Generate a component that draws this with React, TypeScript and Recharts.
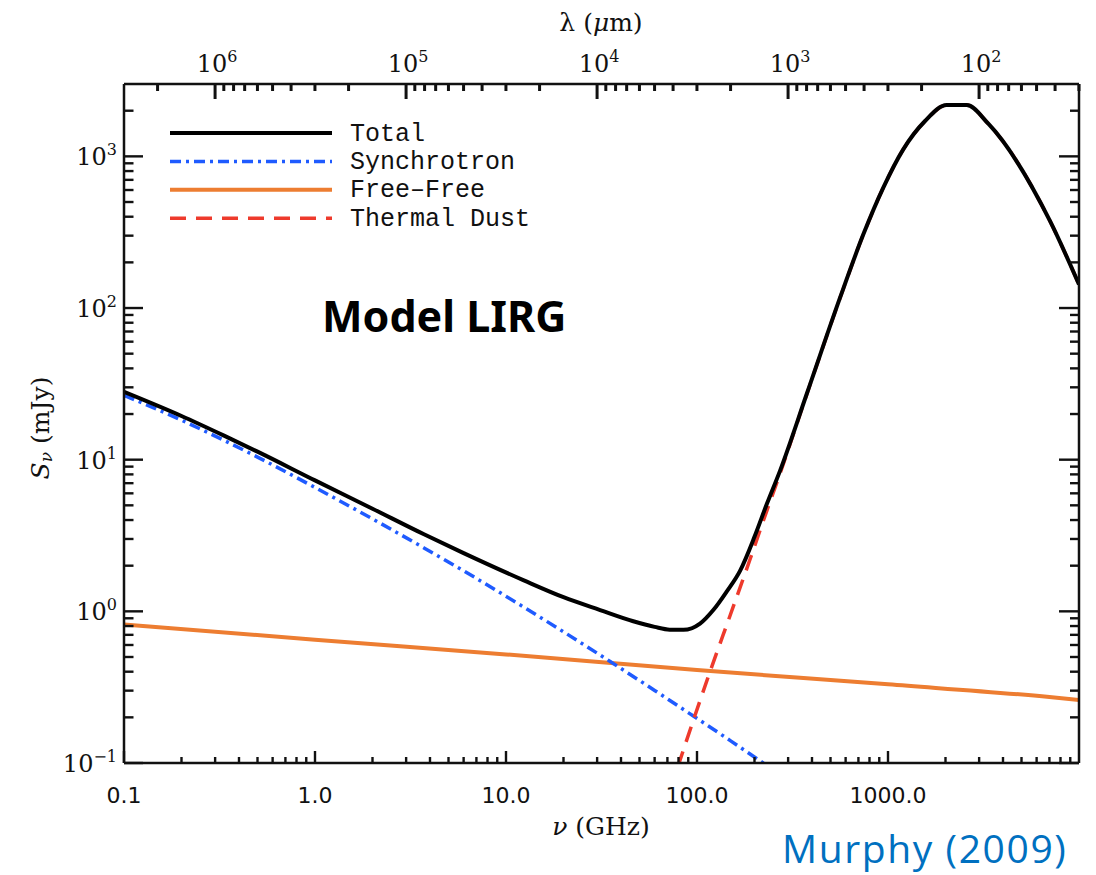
import React from "react";
import { LineChart, Line, XAxis, YAxis } from "recharts";

// lambda (um) = C / nu (GHz)
const C_UM_GHZ = 299792.458;

// ---- data: nu in GHz, S in mJy ----
const totalNu = [0.1, 0.2, 0.334, 0.5, 1.0, 2.0, 3.72, 6.0, 12.4, 20, 31.1, 46.4, 60, 72, 85, 103.7, 121.7, 143, 168, 200, 232, 272, 375, 561, 743, 945, 1202, 1563, 2028, 2583, 3351, 7047, 10000];
const totalS = [28.0, 19.4, 14.4, 11.3, 7.3, 4.75, 3.22, 2.42, 1.6, 1.24, 1.02, 0.86, 0.79, 0.757, 0.755, 0.83, 1.02, 1.35, 1.85, 3.1, 5.1, 8.44, 27.0, 117, 306, 622, 1112, 1710, 2178, 2178, 1641, 375, 143];

const synchNu = [0.1, 0.2, 0.334, 0.5, 1.0, 2.0, 3.72, 6.0, 12.4, 20, 35.1, 60, 95.7, 150, 222, 300];
const synchS = [26.6, 18.2, 13.4, 10.4, 6.56, 4.07, 2.62, 1.85, 1.065, 0.733, 0.467, 0.301, 0.204, 0.14, 0.1, 0.077];

const ffNu = [0.1, 1, 10, 100, 1000, 7000, 10000];
const ffS = [0.82, 0.65, 0.52, 0.41, 0.33, 0.272, 0.26];

const dustNu = [72, 83.2, 117, 150, 189, 232, 272, 375, 561, 743, 945, 1202, 1563, 2028, 2583, 3351, 7047, 10000];
const dustS = [0.065, 0.113, 0.4, 0.96, 2.18, 4.6, 8.1, 26.8, 116.5, 305.5, 621.5, 1111.5, 1709.5, 2177.5, 2177.5, 1640.5, 374.7, 142.7];

// ---- ticks ----
const nuMajor = [0.1, 1, 10, 100, 1000];
const nuMajorLabels = ["0.1", "1.0", "10.0", "100.0", "1000.0"];
const lamMajor = [1e6, 1e5, 1e4, 1e3, 1e2];
const lamMajorExp = ["6", "5", "4", "3", "2"];
const sMajor = [0.1, 1, 10, 100, 1000];
const sMajorExp = ["\u22121", "0", "1", "2", "3"];

const NU_DOMAIN: [number, number] = [0.1, 10000];
const S_DOMAIN: [number, number] = [0.1, 3000];

// chart frame
const W = 1096, H = 875;
const AX_L = 124, AX_R = 17, AX_T = 84, AX_B = 112;
const PLOT_W = W - AX_L - AX_R;
const PLOT_H = H - AX_T - AX_B;

const toPoints = (xs: number[], ys: number[]) => xs.map((nu, i) => ({ nu, s: ys[i] }));

function logTicks(lo: number, hi: number) {
  const out: number[] = [];
  for (let k = Math.floor(Math.log10(lo)); k <= Math.ceil(Math.log10(hi)); k++) {
    for (let m = 1; m < 10; m++) {
      const v = m * Math.pow(10, k);
      if (v >= lo * 0.9999 && v < hi * 0.9999) out.push(v);
    }
  }
  return out;
}

const findMajor = (v: number, majors: number[]) =>
  majors.findIndex((m) => Math.abs(v / m - 1) < 1e-6);

const bottomTicks = logTicks(NU_DOMAIN[0], NU_DOMAIN[1]);
const topTicks = logTicks(C_UM_GHZ / NU_DOMAIN[1], C_UM_GHZ / NU_DOMAIN[0] + 1)
  .map((lam) => C_UM_GHZ / lam)
  .filter((nu) => nu >= NU_DOMAIN[0] && nu <= NU_DOMAIN[1]);
const yTicks = logTicks(S_DOMAIN[0], S_DOMAIN[1]);

// same log mapping as the chart axes, only used for the frame's inward tick marks
const frameX = (nu: number) => AX_L + (PLOT_W * Math.log10(nu / NU_DOMAIN[0])) / Math.log10(NU_DOMAIN[1] / NU_DOMAIN[0]);
const frameY = (s: number) => AX_T + PLOT_H * (1 - Math.log10(s / S_DOMAIN[0]) / Math.log10(S_DOMAIN[1] / S_DOMAIN[0]));

const SERIES = [
  { name: "Total", color: "#000000", width: 4, dash: undefined as string | undefined },
  { name: "Synchrotron", color: "#1f5bff", width: 3.5, dash: "11 5 3 5" },
  { name: "Free\u2013Free", color: "#ed7d31", width: 4, dash: undefined },
  { name: "Thermal Dust", color: "#ee3a2c", width: 3.5, dash: "16 10" },
];

const INK = "#111111";
const SERIF = "'DejaVu Serif', serif";
const axisLine = { stroke: INK, strokeWidth: 2.5 };
const TM = 12;

const BottomTick = (props: any) => {
  const i = findMajor(props.payload.value, nuMajor);
  if (i < 0) return <g />;
  return (
    <text x={props.x} y={Number(props.y) + 20} textAnchor="middle" dominantBaseline="central" fontSize={22} fontFamily="'DejaVu Sans', sans-serif" fill={INK}>
      {nuMajorLabels[i]}
    </text>
  );
};

const TopTick = (props: any) => {
  const i = findMajor(C_UM_GHZ / props.payload.value, lamMajor);
  if (i < 0) return <g />;
  return (
    <text x={Number(props.x) + 2} y={Number(props.y) - 8} textAnchor="middle" dominantBaseline="central" fontSize={24} fontFamily={SERIF} fill={INK}>
      <tspan>10</tspan>
      <tspan dy={-8} fontSize={16}>{lamMajorExp[i]}</tspan>
    </text>
  );
};

const LeftTick = (props: any) => {
  const i = findMajor(props.payload.value, sMajor);
  if (i < 0) return <g />;
  return (
    <text x={Number(props.x) + 5} y={Number(props.y) + 1} textAnchor="end" dominantBaseline="central" fontSize={24} fontFamily={SERIF} fill={INK}>
      <tspan>10</tspan>
      <tspan dy={-8} fontSize={16}>{sMajorExp[i]}</tspan>
    </text>
  );
};

const abs = (left: number, top: number): React.CSSProperties => ({
  position: "absolute",
  left,
  top,
  lineHeight: 1,
  whiteSpace: "nowrap",
  pointerEvents: "none",
});

export default function App() {
  const series = [
    { data: toPoints(ffNu, ffS), s: SERIES[2] },
    { data: toPoints(synchNu, synchS), s: SERIES[1] },
    { data: toPoints(dustNu, dustS), s: SERIES[3] },
    { data: toPoints(totalNu, totalS), s: SERIES[0] },
  ];

  const xRight = AX_L + PLOT_W;
  const yBottom = AX_T + PLOT_H;

  return (
    <div style={{ position: "absolute", left: 0, top: 0, width: W, height: H, background: "#fff" }}>
      <LineChart width={W} height={H} margin={{ top: 0, right: 0, bottom: 0, left: 0 }}>
        <XAxis
          dataKey="nu"
          type="number"
          scale="log"
          domain={NU_DOMAIN}
          allowDataOverflow
          ticks={bottomTicks}
          interval={0}
          height={AX_B}
          tickSize={0}
          tickMargin={TM}
          tickLine={false}
          axisLine={axisLine}
          tick={BottomTick}
        />
        <XAxis
          xAxisId="top"
          orientation="top"
          dataKey="nu"
          type="number"
          scale="log"
          domain={NU_DOMAIN}
          allowDataOverflow
          ticks={topTicks}
          interval={0}
          height={AX_T}
          tickSize={0}
          tickMargin={TM}
          tickLine={false}
          axisLine={axisLine}
          tick={TopTick}
        />
        <YAxis
          type="number"
          scale="log"
          domain={S_DOMAIN}
          allowDataOverflow
          ticks={yTicks}
          interval={0}
          width={AX_L}
          tickSize={0}
          tickMargin={TM}
          tickLine={false}
          axisLine={axisLine}
          tick={LeftTick}
        />
        <YAxis
          yAxisId="right"
          orientation="right"
          type="number"
          scale="log"
          domain={S_DOMAIN}
          allowDataOverflow
          width={AX_R}
          tick={false}
          tickLine={false}
          axisLine={axisLine}
        />
        {series.map(({ data, s }) => (
          <Line
            key={s.name}
            name={s.name}
            data={data}
            dataKey="s"
            type="monotone"
            stroke={s.color}
            strokeWidth={s.width}
            strokeDasharray={s.dash}
            dot={false}
            activeDot={false}
            isAnimationActive={false}
          />
        ))}
      </LineChart>

      {/* inward tick marks of the frame, legend and axis titles */}
      <svg width={W} height={H} style={{ position: "absolute", left: 0, top: 0, pointerEvents: "none" }}>
        <g stroke={INK} strokeWidth={2.4} fill="none">
          {yTicks.map((v) => {
            const y = frameY(v);
            const major = findMajor(v, sMajor) >= 0;
            return (
              <g key={`y${v}`}>
                <line x1={AX_L} x2={AX_L + (major ? 19 : 9.5)} y1={y} y2={y} />
                <line x1={xRight} x2={xRight - (major ? 20 : 9)} y1={y} y2={y} />
              </g>
            );
          })}
          {bottomTicks.map((nu) => {
            const x = frameX(nu);
            const major = findMajor(nu, nuMajor) >= 0;
            return <line key={`b${nu}`} x1={x} x2={x} y1={yBottom} y2={yBottom - (major ? 12 : 6)} />;
          })}
          {topTicks.map((nu) => {
            const x = frameX(nu);
            const major = findMajor(C_UM_GHZ / nu, lamMajor) >= 0;
            return <line key={`t${nu}`} x1={x} x2={x} y1={AX_T} y2={AX_T + (major ? 15 : 7)} strokeWidth={3} />;
          })}
        </g>

        <g transform="translate(165, 116)">
          {SERIES.map((s, i) => {
            const cy = 17 + i * 28.4;
            return (
              <g key={s.name}>
                <line x1={5} x2={167} y1={cy} y2={cy} stroke={s.color} strokeWidth={s.width} strokeDasharray={s.dash} />
                <text x={185} y={cy + 1} dominantBaseline="central" fontSize={25} fontFamily="'Liberation Mono', monospace" fill={INK}>
                  {s.name}
                </text>
              </g>
            );
          })}
        </g>

        <text x={601} y={826} textAnchor="middle" dominantBaseline="central" fontSize={25} fontFamily={SERIF} fill={INK}>
          <tspan fontStyle="italic">{"\u03bd"}</tspan>
          <tspan>{" (GHz)"}</tspan>
        </text>
        <text x={601} y={22} textAnchor="middle" dominantBaseline="central" fontSize={25} fontFamily={SERIF} fill={INK}>
          <tspan>{"\u03bb ("}</tspan>
          <tspan fontStyle="italic">{"\u03bc"}</tspan>
          <tspan>{"m)"}</tspan>
        </text>
        <text x={40} y={428} transform="rotate(-90, 40, 428)" textAnchor="middle" dominantBaseline="central" fontSize={25} fontFamily={SERIF} fill={INK}>
          <tspan fontStyle="italic">S</tspan>
          <tspan dy={6} fontSize={17} fontStyle="italic">{"\u03bd"}</tspan>
          <tspan dy={-6}>{" (mJy)"}</tspan>
        </text>
      </svg>

      <div style={{ ...abs(322, 294), fontSize: 43, fontWeight: 700, fontFamily: "'Noto Sans', sans-serif", color: "#000" }}>
        Model LIRG
      </div>
      <div style={{ ...abs(782, 828), fontSize: 39, letterSpacing: 1.6, fontFamily: "'Open Sans', sans-serif", color: "#0070c0" }}>
        Murphy (2009)
      </div>
    </div>
  );
}
